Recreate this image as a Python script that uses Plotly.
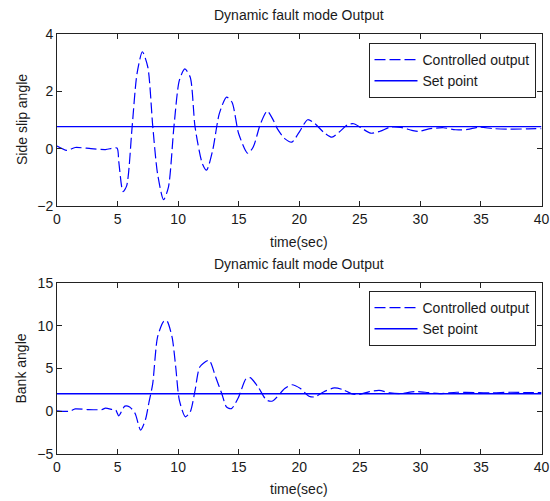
import plotly.graph_objects as go

# Side slip angle (top panel)
t_slip = [0, 0.8, 1.5, 2.8, 4.0, 4.95, 5.1, 5.45, 5.75, 6.2, 6.6, 7.05, 7.5, 7.9, 8.3, 8.8,
          9.2, 9.65, 10.1, 10.55, 11.0, 11.4, 12.0, 12.35, 12.85, 13.4, 14.0, 14.45, 15.0,
          15.75, 16.2, 16.8, 17.35, 17.8, 18.2, 18.8, 19.4, 20.0, 20.7, 21.3, 22.0, 22.7,
          23.3, 24.0, 24.5, 25.1, 25.9, 26.7, 27.5, 28.4, 29.3, 29.85, 30.7, 31.9, 32.9,
          33.9, 34.8, 36.0, 37.4, 38.9, 40]
slip = [0.09, -0.06, 0.04, 0.0, -0.03, 0.02, -0.45, -1.5, -1.3, 0.75, 2.6, 3.38, 2.84, 0.81,
        -0.87, -1.78, -1.34, 0.75, 2.38, 2.78, 2.49, 0.75, -0.52, -0.75, -0.06, 1.22, 1.8,
        1.62, 0.52, -0.16, 0.06, 0.87, 1.31, 1.04, 0.69, 0.35, 0.23, 0.58, 1.01, 0.87, 0.58,
        0.4, 0.58, 0.84, 0.87, 0.73, 0.54, 0.61, 0.75, 0.74, 0.64, 0.6, 0.69, 0.73, 0.66,
        0.67, 0.75, 0.7, 0.68, 0.69, 0.7]
slip_set = 0.77

# Bank angle (bottom panel)
t_bank = [0, 1.07, 1.5, 2.5, 3.7, 4.0, 4.56, 4.85, 5.1, 5.6, 6.0, 6.45, 6.9, 7.3, 7.6, 7.9,
          8.3, 8.8, 9.06, 9.5, 9.8, 10.1, 10.6, 11.0, 11.4, 11.8, 12.55, 13.1, 13.6, 14.0,
          14.4, 15.0, 15.6, 15.95, 16.6, 17.3, 17.8, 18.8, 19.4, 20.1, 20.8, 21.3, 22.0,
          22.9, 23.6, 24.3, 24.9, 25.8, 26.6, 27.5, 28.4, 29.5, 30.4, 31.6, 33.0, 34.5,
          35.9, 37.4, 38.8, 40]
bank = [0.05, 0.01, 0.28, 0.2, 0.2, 0.36, 0.2, 0.13, -0.53, 0.6, 0.5, -0.26, -2.2, -1.0,
        1.1, 3.2, 8.67, 10.5, 10.6, 8.67, 5.2, 1.3, -0.65, -0.07, 2.45, 5.2, 5.95, 4.0,
        2.07, 0.5, 0.3, 1.68, 3.8, 3.93, 2.84, 1.3, 1.2, 2.65, 3.1, 2.65, 1.76, 1.68, 2.26,
        2.73, 2.53, 2.07, 1.95, 2.3, 2.45, 2.14, 2.07, 2.3, 2.22, 2.07, 2.22, 2.18, 2.14,
        2.22, 2.18, 2.18]
bank_set = 2.05

t_range = [0, 40]
x_ticks = [0, 5, 10, 15, 20, 25, 30, 35, 40]
slip_ticks = [-2, 0, 2, 4]
bank_ticks = [-5, 0, 5, 10, 15]

W, H = 550, 501
blue = "#0000ff"
txt = "#1a1a1a"
font = dict(family="Liberation Sans, Arial, sans-serif", size=14, color=txt)

fig = go.Figure()

fig.add_trace(go.Scatter(x=t_slip, y=slip, mode="lines", name="Controlled output",
                         line=dict(color=blue, width=1.2, dash="11px,4px", shape="spline", smoothing=0.7),
                         xaxis="x", yaxis="y", legend="legend"))
fig.add_trace(go.Scatter(x=t_range, y=[slip_set, slip_set], mode="lines", name="Set point",
                         line=dict(color=blue, width=1.4), xaxis="x", yaxis="y", legend="legend"))
fig.add_trace(go.Scatter(x=t_bank, y=bank, mode="lines", name="Controlled output",
                         line=dict(color=blue, width=1.2, dash="11px,4px", shape="spline", smoothing=0.7),
                         xaxis="x2", yaxis="y2", legend="legend2"))
fig.add_trace(go.Scatter(x=t_range, y=[bank_set, bank_set], mode="lines", name="Set point",
                         line=dict(color=blue, width=1.4), xaxis="x2", yaxis="y2", legend="legend2"))

# plot areas in pixels
x0, x1 = 57, 541.5
top = (34, 206)
bot = (283, 454)

def ydom(p):
    return [1 - p[1] / H, 1 - p[0] / H]

def label(text, x, y, angle=0):
    return dict(text=text, x=x / W, y=1 - y / H, xref="paper", yref="paper",
                xanchor="center", yanchor="middle",
                showarrow=False, font=font, textangle=angle)

ax_common = dict(showline=True, linecolor="#222", linewidth=1, mirror="ticks", ticks="inside",
                 ticklen=5, tickcolor="#222", showgrid=False, zeroline=False,
                 tickfont=font, automargin=False)

leg_common = dict(xanchor="right", yanchor="top", bgcolor="white", bordercolor="#222",
                  borderwidth=1, font=font, itemwidth=43)

fig.update_layout(
    width=W, height=H, margin=dict(l=0, r=0, t=0, b=0),
    paper_bgcolor="white", plot_bgcolor="white", font=font,
    xaxis=dict(ax_common, domain=[x0 / W, x1 / W], range=t_range, tickvals=x_ticks, anchor="y"),
    yaxis=dict(ax_common, domain=ydom(top), range=[-2, 4], tickvals=slip_ticks, anchor="x"),
    xaxis2=dict(ax_common, domain=[x0 / W, x1 / W], range=t_range, tickvals=x_ticks, anchor="y2"),
    yaxis2=dict(ax_common, domain=ydom(bot), range=[-5, 15], tickvals=bank_ticks, anchor="x2"),
    legend=dict(leg_common, x=535.5 / W, y=1 - 43 / H),
    legend2=dict(leg_common, x=535.5 / W, y=1 - 291 / H),
    annotations=[
        label("Dynamic fault mode Output", (x0 + x1) / 2, 15),
        label("Dynamic fault mode Output", (x0 + x1) / 2, 264),
        label("time(sec)", (x0 + x1) / 2, 242),
        label("time(sec)", (x0 + x1) / 2, 489),
        label("Side slip angle", 22, (top[0] + top[1]) / 2, -90),
        label("Bank angle", 20, (bot[0] + bot[1]) / 2, -90),
    ],
)

fig.write_html("out.html", config={"displayModeBar": False},
               post_script="document.body.style.margin='0';")
